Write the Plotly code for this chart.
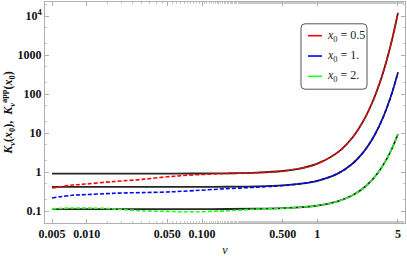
import plotly.graph_objects as go

nu = [0.005, 0.0075, 0.01, 0.015, 0.02, 0.03, 0.05, 0.085, 0.165, 0.3, 0.5, 0.75,
      1, 1.5, 2, 2.5, 3, 3.5, 4, 4.5, 5]

# exact K_nu(x0)
k_exact_05 = [0.9244, 0.9244, 0.9244, 0.9245, 0.9246, 0.9249, 0.9258, 0.9284, 0.9396, 0.976, 1.075, 1.294,
              1.656, 3.225, 7.550, 20.43, 62.06, 207.5, 752.2, 2925, 12098]
k_exact_1 = [0.4210, 0.4210, 0.4210, 0.4210, 0.4211, 0.4211, 0.4214, 0.4221, 0.4252, 0.4350, 0.4611, 0.516,
             0.6019, 0.9221, 1.625, 3.227, 7.101, 17.06, 44.23, 122.6, 361.0]
k_exact_2 = [0.1139, 0.1139, 0.1139, 0.1139, 0.1139, 0.1139, 0.1140, 0.1141, 0.1145, 0.1160, 0.1199, 0.1279,
             0.1399, 0.1799, 0.2538, 0.3898, 0.6474, 1.154, 2.196, 4.430, 9.431]

# approximations K_nu^app(x0)
k_app_05 = [0.394, 0.469, 0.502, 0.558, 0.598, 0.655, 0.765, 0.855, 0.925, 0.972, 1.075, 1.294,
            1.656, 3.225, 7.550, 20.43, 62.06, 207.5, 752.2, 2925, 12098]
k_app_1 = [0.220, 0.257, 0.268, 0.284, 0.294, 0.301, 0.312, 0.338, 0.380, 0.415, 0.455, 0.516,
           0.6019, 0.9221, 1.625, 3.227, 7.101, 17.06, 44.23, 122.6, 361.0]
k_app_2 = [0.1156, 0.1215, 0.1210, 0.1180, 0.1110, 0.1030, 0.0994, 0.0970, 0.1030, 0.1135, 0.1195, 0.1279,
           0.1399, 0.1799, 0.2538, 0.3898, 0.6474, 1.154, 2.196, 4.430, 9.431]

legend_labels = ["<i>x</i><sub>0</sub> = 0.5", "<i>x</i><sub>0</sub> = 1.", "<i>x</i><sub>0</sub> = 2."]
colors = ["#ff0000", "#0000ff", "#22ff22"]

x_ticks = [0.005, 0.01, 0.05, 0.1, 0.5, 1, 5]
x_ticktext = ["0.005", "0.010", "0.050", "0.100", "0.500", "1", "5"]
y_ticks = [0.1, 1, 10, 100, 1000, 10000]
y_ticktext = ["0.1", "1", "10", "100", "1000", "10<sup>4</sup>"]

W, H = 407, 257
ML, MR, MT, MB = 45, 2, 1, 33
PW, PH = W - ML - MR, H - MT - MB

fig = go.Figure()
for ke in [k_exact_05, k_exact_1, k_exact_2]:
    fig.add_trace(go.Scatter(x=nu, y=ke, mode="lines", line=dict(color="#262626", width=1.8, shape="spline"),
                             showlegend=False, hoverinfo="skip"))
for ka, c in zip([k_app_05, k_app_1, k_app_2], colors):
    fig.add_trace(go.Scatter(x=nu, y=ka, mode="lines", line=dict(color=c, width=1.6, dash="4px,2px", shape="spline"),
                             showlegend=False, hoverinfo="skip"))

FONT = "Liberation Serif"
axis_common = dict(type="log", showgrid=False, zeroline=False, showline=True, linecolor="#b0b0b0",
                   linewidth=1, mirror="allticks", ticks="inside", ticklen=4, tickcolor="#b0b0b0",
                   tickfont=dict(family=FONT, size=12, color="#111", weight="bold"),
                   minor=dict(ticks="inside", ticklen=2, tickcolor="#c8c8c8"))

fig.update_xaxes(**axis_common, range=[-2.362, 0.760], tickvals=x_ticks, ticktext=x_ticktext,
                 title=dict(text="<i>ν</i>", font=dict(family=FONT, size=12, color="#111"), standoff=6))
fig.update_yaxes(**axis_common, range=[-1.30, 4.36], tickvals=y_ticks, ticktext=y_ticktext,
                 title=dict(text="<b><i>K</i><sub><i>ν</i></sub>(<i>x</i><sub>0</sub>),  <i>K</i><sub><i>ν</i></sub><sup>app</sup>(<i>x</i><sub>0</sub>)</b>",
                            font=dict(family=FONT, size=12, color="#111"), standoff=4))

def px(x):
    return (x - ML) / PW

def py(y):
    return (MT + PH - y) / PH

# manual legend box with rounded corners
x0, x1, y0, y1, r = 301, 367, 23, 89, 4
path = (f"M {px(x0+r)},{py(y0)} L {px(x1-r)},{py(y0)} Q {px(x1)},{py(y0)} {px(x1)},{py(y0+r)} "
        f"L {px(x1)},{py(y1-r)} Q {px(x1)},{py(y1)} {px(x1-r)},{py(y1)} "
        f"L {px(x0+r)},{py(y1)} Q {px(x0)},{py(y1)} {px(x0)},{py(y1-r)} "
        f"L {px(x0)},{py(y0+r)} Q {px(x0)},{py(y0)} {px(x0+r)},{py(y0)} Z")
fig.add_shape(type="path", path=path, xref="paper", yref="paper",
              line=dict(color="#555555", width=1), fillcolor="white", layer="above")
rows = [35, 55.5, 76]
for lab, c, ry in zip(legend_labels, colors, rows):
    fig.add_shape(type="line", xref="paper", yref="paper", x0=px(308), x1=px(322), y0=py(ry), y1=py(ry),
                  line=dict(color=c, width=1.6), layer="above")
    fig.add_annotation(text=lab, xref="paper", yref="paper", x=px(325), y=py(ry), xanchor="left",
                       yanchor="middle", showarrow=False, font=dict(family=FONT, size=12, color="#222"))

fig.update_layout(width=W, height=H, margin=dict(l=ML, r=MR, t=MT, b=MB),
                  plot_bgcolor="white", paper_bgcolor="white", showlegend=False)
fig.write_html("out.html", config={"displayModeBar": False},
               post_script="document.body.style.margin='0';document.body.style.overflow='hidden';")
